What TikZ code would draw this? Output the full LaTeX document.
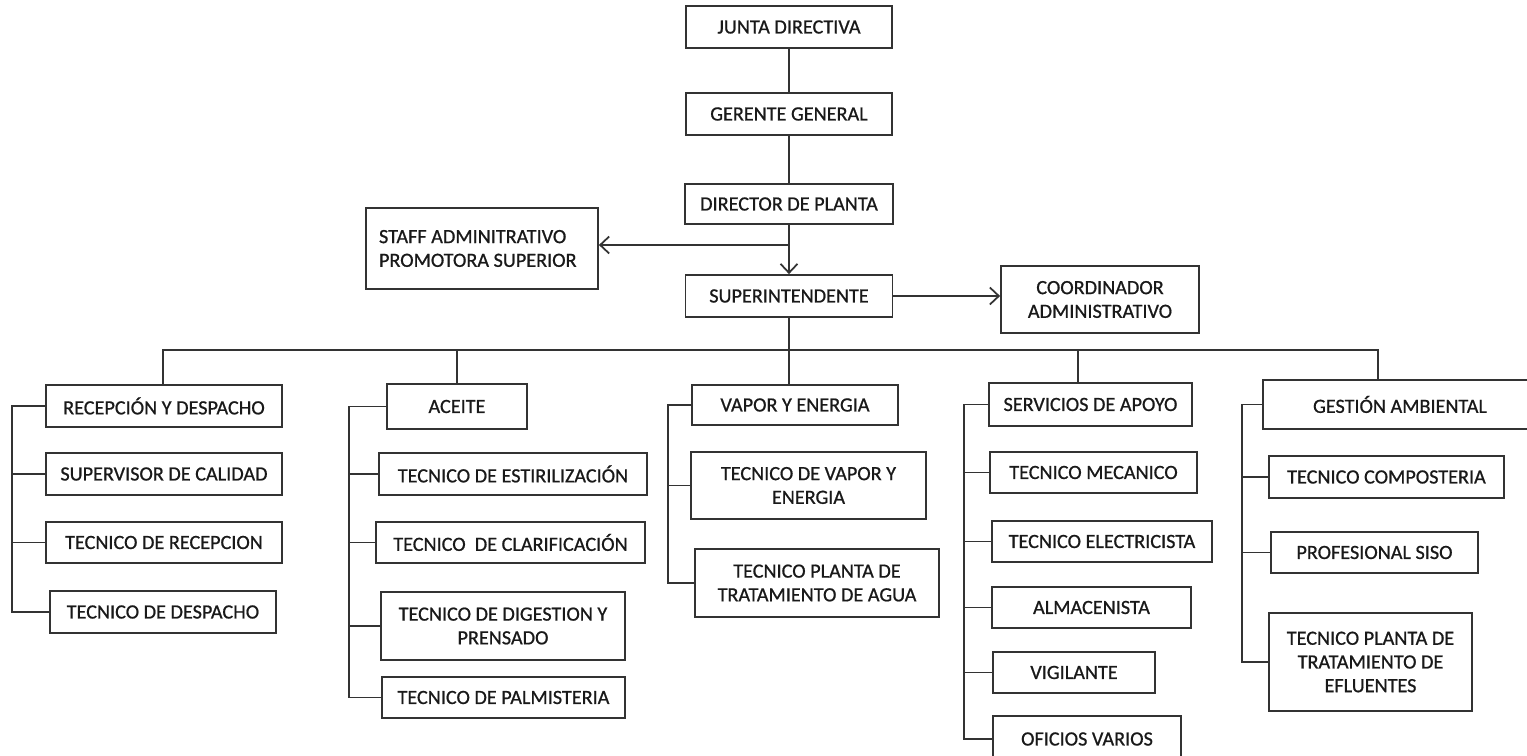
\documentclass[tikz,border=0pt]{standalone}
\usepackage{fontspec}
\setmainfont{Carlito}[FakeBold=0.8]
\usetikzlibrary{arrows.meta}

\begin{document}
\begin{tikzpicture}[x=.02cm,y=-.02cm,line width=1pt,box/.style={draw=black!80,inner sep=1pt,align=center,font=\fontsize{11.5}{13.5}\selectfont,text=black!90},wh/.style 2 args={minimum width=#1*.02cm,minimum height=#2*.02cm},l/.style={draw=black!80},a/.style={-{Straight Barb[length=1.8mm,width=3.4mm]}}]
\useasboundingbox (0,0) rectangle (1527,756);
\node[box,wh={206}{42}] (junta) at (789,27) {JUNTA DIRECTIVA};
\node[box,wh={206}{42}] (gerente) at (789,114) {GERENTE GENERAL};
\node[box,wh={208}{40}] (director) at (789,204) {DIRECTOR DE PLANTA};
\node[box,wh={232}{81},text width=4.12cm,inner xsep=.26cm,align=flush left] (staff) at (482,248.5) {STAFF ADMINITRATIVO\\PROMOTORA SUPERIOR};
\node[box,wh={207}{42}] (super) at (789,296) {SUPERINTENDENTE};
\node[box,wh={198}{67}] (coord) at (1100,299.5) {COORDINADOR\\ADMINISTRATIVO};
% recepcion y despacho
\node[box,wh={236}{42}] (recep) at (164,406) {RECEPCIÓN Y DESPACHO};
\node[box,wh={236}{42}] (calidad) at (164,474) {SUPERVISOR DE CALIDAD};
\node[box,wh={236}{41}] (tecrecep) at (164,542.5) {TECNICO DE RECEPCION};
\node[box,wh={226}{42}] (tecdesp) at (163,612) {TECNICO DE DESPACHO};
% aceite
\node[box,wh={140}{45}] (aceite) at (457,406.5) {ACEITE};
\node[box,wh={268}{42}] (estir) at (513,474) {TECNICO DE ESTIRILIZACIÓN};
\node[box,wh={269}{41}] (clarif) at (510.5,542.5) {TECNICO \ DE CLARIFICACIÓN};
\node[box,wh={244}{68}] (digest) at (503,626) {TECNICO DE DIGESTION Y\\PRENSADO};
\node[box,wh={243}{41}] (palm) at (503.5,697.5) {TECNICO DE PALMISTERIA};
% vapor y energia
\node[box,wh={206}{40}] (vapor) at (795,405) {VAPOR Y ENERGIA};
\node[box,wh={235}{67}] (tecvapor) at (808.5,485.5) {TECNICO DE VAPOR Y\\ENERGIA};
\node[box,wh={244}{68}] (agua) at (817,583) {TECNICO PLANTA DE\\TRATAMIENTO DE AGUA};
% servicios de apoyo
\node[box,wh={203}{43}] (apoyo) at (1090.5,404.5) {SERVICIOS DE APOYO};
\node[box,wh={207}{41}] (mecanico) at (1093.5,472.5) {TECNICO MECANICO};
\node[box,wh={220}{41}] (electric) at (1102,541.5) {TECNICO ELECTRICISTA};
\node[box,wh={199}{41}] (almacen) at (1091.5,607.5) {ALMACENISTA};
\node[box,wh={162}{41}] (vigilante) at (1074,672.5) {VIGILANTE};
\node[box,wh={188}{46}] (oficios) at (1087,739) {OFICIOS VARIOS};
% gestion ambiental
\node[box,wh={274}{49}] (ambiental) at (1400,404.5) {GESTIÓN AMBIENTAL};
\node[box,wh={235}{42}] (compost) at (1386.5,477) {TECNICO COMPOSTERIA};
\node[box,wh={207}{41}] (siso) at (1374.5,552.5) {PROFESIONAL SISO};
\node[box,wh={203}{98}] (efluentes) at (1370.5,662) {TECNICO PLANTA DE\\TRATAMIENTO DE\\EFLUENTES};
% lineas
\coordinate (split) at (789,245);
\coordinate (busL) at (163,350);
\coordinate (busR) at (1378,350);
\coordinate (sv) at (1078,350);
\draw[l] (junta) -- (gerente) -- (director);
\draw[l,a] (director) -- (super);
\draw[l,a] (split) -- (split -| staff.east);
\draw[l,a] (super) -- (super -| coord.west);
\draw[l] (super.south) -- (super.south |- vapor.north);
\draw[l] (recep.north -| busL) -- (busL) -- (busR) -- (busR |- ambiental.north);
\draw[l] (aceite.north) -- (aceite.north |- busL);
\draw[l] (sv) -- (sv |- apoyo.north);
\foreach \h/\e/\x in {recep/tecdesp/12,aceite/palm/349,vapor/agua/668,apoyo/oficios/964,ambiental/efluentes/1242}
  \draw[l] (\h.west) -| (\x,0 |- \e.west) -- (\e.west);
\foreach \n/\x in {calidad/12,tecrecep/12,estir/349,clarif/349,digest/349,tecvapor/668,mecanico/964,electric/964,almacen/964,vigilante/964,compost/1242,siso/1242}
  \draw[l] (\n.west) -- (\x,0 |- \n.west);
\end{tikzpicture}
\end{document}
